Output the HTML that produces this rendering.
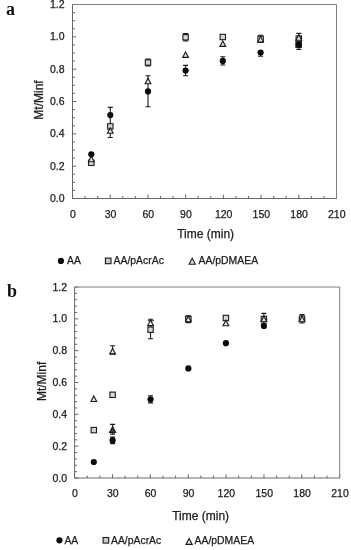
<!DOCTYPE html>
<html><head><meta charset="utf-8"><style>
html,body{margin:0;padding:0;background:#fff;width:351px;height:550px;overflow:hidden}
svg{display:block;will-change:transform}
text{font-family:"Liberation Sans",sans-serif;stroke:#1a1a1a;stroke-width:0.25px}
text.L{font-family:"Liberation Serif",serif;font-weight:bold;stroke:none}
</style></head><body>
<svg width="351" height="550" viewBox="0 0 351 550" font-family="Liberation Sans, sans-serif">
<rect width="351" height="550" fill="#fff"/>
<path d="M72.5 198.5H76.3M72.5 190.42H75M72.5 182.33H75M72.5 174.25H75M72.5 166.17H76.3M72.5 158.08H75M72.5 150H75M72.5 141.92H75M72.5 133.83H76.3M72.5 125.75H75M72.5 117.67H75M72.5 109.58H75M72.5 101.5H76.3M72.5 93.42H75M72.5 85.33H75M72.5 77.25H75M72.5 69.17H76.3M72.5 61.08H75M72.5 53H75M72.5 44.92H75M72.5 36.83H76.3M72.5 28.75H75M72.5 20.67H75M72.5 12.58H75M72.5 4.5H76.3M72.5 198.5V194.7M85.07 198.5V196M97.64 198.5V196M110.21 198.5V194.7M122.79 198.5V196M135.36 198.5V196M147.93 198.5V194.7M160.5 198.5V196M173.07 198.5V196M185.64 198.5V194.7M198.21 198.5V196M210.79 198.5V196M223.36 198.5V194.7M235.93 198.5V196M248.5 198.5V196M261.07 198.5V194.7M273.64 198.5V196M286.21 198.5V196M298.79 198.5V194.7M311.36 198.5V196M323.93 198.5V196M336.5 198.5V194.7" stroke="#686868" stroke-width="1" fill="none"/>
<path d="M72.5 4.5H336.5V198.5" stroke="#808080" stroke-width="1" fill="none"/>
<path d="M72.5 4.5V198.5H336.5" stroke="#686868" stroke-width="1" fill="none"/>
<text x="64.5" y="202.1" text-anchor="end" font-size="10.5" fill="#1a1a1a">0.0</text>
<text x="64.5" y="169.77" text-anchor="end" font-size="10.5" fill="#1a1a1a">0.2</text>
<text x="64.5" y="137.43" text-anchor="end" font-size="10.5" fill="#1a1a1a">0.4</text>
<text x="64.5" y="105.1" text-anchor="end" font-size="10.5" fill="#1a1a1a">0.6</text>
<text x="64.5" y="72.77" text-anchor="end" font-size="10.5" fill="#1a1a1a">0.8</text>
<text x="64.5" y="40.43" text-anchor="end" font-size="10.5" fill="#1a1a1a">1.0</text>
<text x="64.5" y="8.1" text-anchor="end" font-size="10.5" fill="#1a1a1a">1.2</text>
<text x="72.8" y="217.6" text-anchor="middle" font-size="10.5" fill="#1a1a1a">0</text>
<text x="110.51" y="217.6" text-anchor="middle" font-size="10.5" fill="#1a1a1a">30</text>
<text x="148.23" y="217.6" text-anchor="middle" font-size="10.5" fill="#1a1a1a">60</text>
<text x="185.94" y="217.6" text-anchor="middle" font-size="10.5" fill="#1a1a1a">90</text>
<text x="223.66" y="217.6" text-anchor="middle" font-size="10.5" fill="#1a1a1a">120</text>
<text x="261.37" y="217.6" text-anchor="middle" font-size="10.5" fill="#1a1a1a">150</text>
<text x="299.09" y="217.6" text-anchor="middle" font-size="10.5" fill="#1a1a1a">180</text>
<text x="336.8" y="217.6" text-anchor="middle" font-size="10.5" fill="#1a1a1a">210</text>
<text x="177.2" y="237.5" font-size="12" fill="#1a1a1a">Time (min)</text>
<text transform="translate(42.6 100) rotate(-90)" text-anchor="middle" font-size="12" fill="#1a1a1a">Mt/Minf</text>
<text x="6" y="15.1" class="L" font-size="18" fill="#111">a</text>
<path d="M110.3 107.4V137.5M107.8 107.4h5M107.8 137.5h5" stroke="#1a1a1a" stroke-width="1.1" fill="none"/>
<path d="M148 75.8V106.8M145.5 75.8h5M145.5 106.8h5" stroke="#1a1a1a" stroke-width="1.1" fill="none"/>
<path d="M185.6 65.4V75.8M183.1 65.4h5M183.1 75.8h5" stroke="#1a1a1a" stroke-width="1.1" fill="none"/>
<path d="M222.8 56.8V65M220.3 56.8h5M220.3 65h5" stroke="#1a1a1a" stroke-width="1.1" fill="none"/>
<path d="M260.6 52.5V56.3M258.1 56.3h5" stroke="#1a1a1a" stroke-width="1.1" fill="none"/>
<path d="M298.8 33.4V49.5M296.3 33.4h5M296.3 49.5h5" stroke="#1a1a1a" stroke-width="1.1" fill="none"/>
<rect x="295.9" y="42.2" width="5.4" height="5.4" fill="#d6d6d6" stroke="#1a1a1a" stroke-width="1.1"/>
<path d="M185.6 33.6V41M183.1 33.6h5M183.1 41h5" stroke="#1a1a1a" stroke-width="1.1" fill="none"/>
<path d="M147.9 59V65.9M145.4 59h5M145.4 65.9h5" stroke="#1a1a1a" stroke-width="1.1" fill="none"/>
<path d="M260.6 35.2V42.4M258.1 35.2h5M258.1 42.4h5" stroke="#1a1a1a" stroke-width="1.1" fill="none"/>
<circle cx="91.3" cy="154.3" r="3.1" fill="#0a0a0a"/>
<circle cx="110.3" cy="115.1" r="3.1" fill="#0a0a0a"/>
<circle cx="148" cy="91.4" r="3.1" fill="#0a0a0a"/>
<circle cx="185.6" cy="70.5" r="3.1" fill="#0a0a0a"/>
<circle cx="222.8" cy="60.9" r="3.1" fill="#0a0a0a"/>
<circle cx="260.6" cy="52.5" r="3.1" fill="#0a0a0a"/>
<circle cx="298.8" cy="44.6" r="3.1" fill="#0a0a0a"/>
<rect x="88.6" y="160.1" width="5.4" height="5.4" fill="#d6d6d6" stroke="#1a1a1a" stroke-width="1.1"/>
<rect x="107.6" y="123.7" width="5.4" height="5.4" fill="#d6d6d6" stroke="#1a1a1a" stroke-width="1.1"/>
<rect x="145.3" y="59.8" width="5.4" height="5.4" fill="#d6d6d6" stroke="#1a1a1a" stroke-width="1.1"/>
<rect x="182.9" y="34.6" width="5.4" height="5.4" fill="#d6d6d6" stroke="#1a1a1a" stroke-width="1.1"/>
<rect x="220.1" y="34.3" width="5.4" height="5.4" fill="#d6d6d6" stroke="#1a1a1a" stroke-width="1.1"/>
<rect x="257.9" y="36.1" width="5.4" height="5.4" fill="#d6d6d6" stroke="#1a1a1a" stroke-width="1.1"/>
<rect x="296.1" y="35.9" width="5.4" height="5.4" fill="#d6d6d6" stroke="#1a1a1a" stroke-width="1.1"/>
<path d="M91.3 156.2L94.2 161.71L88.4 161.71Z" fill="#e2e2e2" stroke="#1a1a1a" stroke-width="1.1" stroke-linejoin="miter"/>
<path d="M110.3 127.7L113.2 133.21L107.4 133.21Z" fill="#e2e2e2" stroke="#1a1a1a" stroke-width="1.1" stroke-linejoin="miter"/>
<path d="M148 78.3L150.9 83.81L145.1 83.81Z" fill="#e2e2e2" stroke="#1a1a1a" stroke-width="1.1" stroke-linejoin="miter"/>
<path d="M185.6 51.9L188.5 57.41L182.7 57.41Z" fill="#e2e2e2" stroke="#1a1a1a" stroke-width="1.1" stroke-linejoin="miter"/>
<path d="M222.8 40.9L225.7 46.41L219.9 46.41Z" fill="#e2e2e2" stroke="#1a1a1a" stroke-width="1.1" stroke-linejoin="miter"/>
<path d="M260.6 36.6L263.5 42.11L257.7 42.11Z" fill="#e2e2e2" stroke="#1a1a1a" stroke-width="1.1" stroke-linejoin="miter"/>
<path d="M298.8 34.7L301.7 40.21L295.9 40.21Z" fill="#e2e2e2" stroke="#1a1a1a" stroke-width="1.1" stroke-linejoin="miter"/>
<circle cx="60.9" cy="260.9" r="3.1" fill="#0a0a0a"/>
<text x="67" y="263.9" font-size="10.4" fill="#1a1a1a">AA</text>
<rect x="105.4" y="258.1" width="5.6" height="5.6" fill="#c8c8c8" stroke="#1a1a1a" stroke-width="1.1"/>
<text x="113.6" y="263.9" font-size="10.4" fill="#1a1a1a">AA/pAcrAc</text>
<path d="M192.2 258.3L195.3 264.19L189.1 264.19Z" fill="#e0e0e0" stroke="#1a1a1a" stroke-width="1.1" stroke-linejoin="miter"/>
<text x="198.6" y="263.9" font-size="10.4" fill="#1a1a1a">AA/pDMAEA</text>
<path d="M74.6 478H78.4M74.6 471.63H77.1M74.6 465.27H77.1M74.6 458.9H77.1M74.6 452.53H77.1M74.6 446.17H78.4M74.6 439.8H77.1M74.6 433.43H77.1M74.6 427.07H77.1M74.6 420.7H77.1M74.6 414.33H78.4M74.6 407.97H77.1M74.6 401.6H77.1M74.6 395.23H77.1M74.6 388.87H77.1M74.6 382.5H78.4M74.6 376.13H77.1M74.6 369.77H77.1M74.6 363.4H77.1M74.6 357.03H77.1M74.6 350.67H78.4M74.6 344.3H77.1M74.6 337.93H77.1M74.6 331.57H77.1M74.6 325.2H77.1M74.6 318.83H78.4M74.6 312.47H77.1M74.6 306.1H77.1M74.6 299.73H77.1M74.6 293.37H77.1M74.6 287H78.4M74.6 478V474.2M87.22 478V475.5M99.85 478V475.5M112.47 478V474.2M125.1 478V475.5M137.72 478V475.5M150.34 478V474.2M162.97 478V475.5M175.59 478V475.5M188.21 478V474.2M200.84 478V475.5M213.46 478V475.5M226.09 478V474.2M238.71 478V475.5M251.33 478V475.5M263.96 478V474.2M276.58 478V475.5M289.2 478V475.5M301.83 478V474.2M314.45 478V475.5M327.08 478V475.5M339.7 478V474.2" stroke="#686868" stroke-width="1" fill="none"/>
<path d="M74.6 287H339.7V478" stroke="#808080" stroke-width="1" fill="none"/>
<path d="M74.6 287V478H339.7" stroke="#686868" stroke-width="1" fill="none"/>
<text x="67.1" y="481.6" text-anchor="end" font-size="10.5" fill="#1a1a1a">0.0</text>
<text x="67.1" y="449.77" text-anchor="end" font-size="10.5" fill="#1a1a1a">0.2</text>
<text x="67.1" y="417.93" text-anchor="end" font-size="10.5" fill="#1a1a1a">0.4</text>
<text x="67.1" y="386.1" text-anchor="end" font-size="10.5" fill="#1a1a1a">0.6</text>
<text x="67.1" y="354.27" text-anchor="end" font-size="10.5" fill="#1a1a1a">0.8</text>
<text x="67.1" y="322.43" text-anchor="end" font-size="10.5" fill="#1a1a1a">1.0</text>
<text x="67.1" y="290.6" text-anchor="end" font-size="10.5" fill="#1a1a1a">1.2</text>
<text x="74.9" y="496.9" text-anchor="middle" font-size="10.5" fill="#1a1a1a">0</text>
<text x="112.77" y="496.9" text-anchor="middle" font-size="10.5" fill="#1a1a1a">30</text>
<text x="150.64" y="496.9" text-anchor="middle" font-size="10.5" fill="#1a1a1a">60</text>
<text x="188.51" y="496.9" text-anchor="middle" font-size="10.5" fill="#1a1a1a">90</text>
<text x="226.39" y="496.9" text-anchor="middle" font-size="10.5" fill="#1a1a1a">120</text>
<text x="264.26" y="496.9" text-anchor="middle" font-size="10.5" fill="#1a1a1a">150</text>
<text x="302.13" y="496.9" text-anchor="middle" font-size="10.5" fill="#1a1a1a">180</text>
<text x="340" y="496.9" text-anchor="middle" font-size="10.5" fill="#1a1a1a">210</text>
<text x="172.2" y="520" font-size="12" fill="#1a1a1a">Time (min)</text>
<text transform="translate(45.5 381.4) rotate(-90)" text-anchor="middle" font-size="12" fill="#1a1a1a">Mt/Minf</text>
<text x="6.9" y="297" class="L" font-size="18" fill="#111">b</text>
<path d="M112.6 345.8V354.3M110.1 345.8h5M110.1 354.3h5" stroke="#1a1a1a" stroke-width="1.1" fill="none"/>
<path d="M112.6 424.4V434.1M110.1 424.4h5M110.1 434.1h5" stroke="#1a1a1a" stroke-width="1.1" fill="none"/>
<path d="M112.6 437.1V443.6M110.1 437.1h5M110.1 443.6h5" stroke="#1a1a1a" stroke-width="1.1" fill="none"/>
<path d="M150.55 319.3V338.8M148.05 319.3h5M148.05 338.8h5" stroke="#1a1a1a" stroke-width="1.1" fill="none"/>
<path d="M150.55 395.8V402.9M148.05 395.8h5M148.05 402.9h5" stroke="#1a1a1a" stroke-width="1.1" fill="none"/>
<path d="M263.9 313.4V323.5M261.4 313.4h5M261.4 323.5h5" stroke="#1a1a1a" stroke-width="1.1" fill="none"/>
<path d="M302 314.5V323M299.5 314.5h5M299.5 323h5" stroke="#1a1a1a" stroke-width="1.1" fill="none"/>
<path d="M188.35 315.8V322.6M185.85 315.8h5M185.85 322.6h5" stroke="#1a1a1a" stroke-width="1.1" fill="none"/>
<path d="M150.85 320.8V325M147.85 320.8h6M147.85 325h6" stroke="#1a1a1a" stroke-width="1.1" fill="none"/>
<circle cx="93.8" cy="462" r="3.1" fill="#0a0a0a"/>
<circle cx="112.6" cy="440.4" r="3.1" fill="#0a0a0a"/>
<circle cx="150.55" cy="399.3" r="3.1" fill="#0a0a0a"/>
<circle cx="188.35" cy="368.4" r="3.1" fill="#0a0a0a"/>
<circle cx="225.9" cy="343.2" r="3.1" fill="#0a0a0a"/>
<circle cx="263.9" cy="325.9" r="3.1" fill="#0a0a0a"/>
<circle cx="302" cy="318.7" r="3.1" fill="#0a0a0a"/>
<rect x="91.1" y="427.4" width="5.4" height="5.4" fill="#d6d6d6" stroke="#1a1a1a" stroke-width="1.1"/>
<rect x="109.9" y="392.1" width="5.4" height="5.4" fill="#d6d6d6" stroke="#1a1a1a" stroke-width="1.1"/>
<rect x="147.85" y="327" width="5.4" height="5.4" fill="#d6d6d6" stroke="#1a1a1a" stroke-width="1.1"/>
<rect x="185.65" y="316.3" width="5.4" height="5.4" fill="#d6d6d6" stroke="#1a1a1a" stroke-width="1.1"/>
<rect x="223.2" y="315.3" width="5.4" height="5.4" fill="#d6d6d6" stroke="#1a1a1a" stroke-width="1.1"/>
<rect x="261.2" y="316.3" width="5.4" height="5.4" fill="#d6d6d6" stroke="#1a1a1a" stroke-width="1.1"/>
<rect x="299.3" y="316" width="5.4" height="5.4" fill="#d6d6d6" stroke="#1a1a1a" stroke-width="1.1"/>
<path d="M93.8 396L96.7 401.51L90.9 401.51Z" fill="#e2e2e2" stroke="#1a1a1a" stroke-width="1.1" stroke-linejoin="miter"/>
<path d="M112.6 348.4L115.5 353.91L109.7 353.91Z" fill="#e2e2e2" stroke="#1a1a1a" stroke-width="1.1" stroke-linejoin="miter"/>
<path d="M150.55 320.1L153.45 325.61L147.65 325.61Z" fill="#e2e2e2" stroke="#1a1a1a" stroke-width="1.1" stroke-linejoin="miter"/>
<path d="M188.35 316.3L191.25 321.81L185.45 321.81Z" fill="#e2e2e2" stroke="#1a1a1a" stroke-width="1.1" stroke-linejoin="miter"/>
<path d="M225.9 320.2L228.8 325.71L223 325.71Z" fill="#e2e2e2" stroke="#1a1a1a" stroke-width="1.1" stroke-linejoin="miter"/>
<path d="M263.9 316.2L266.8 321.71L261 321.71Z" fill="#e2e2e2" stroke="#1a1a1a" stroke-width="1.1" stroke-linejoin="miter"/>
<path d="M302 316.2L304.9 321.71L299.1 321.71Z" fill="#e2e2e2" stroke="#1a1a1a" stroke-width="1.1" stroke-linejoin="miter"/>
<path d="M112.6 426.6L115.7 432.49L109.5 432.49Z" fill="#3a3a3a" stroke="#1a1a1a" stroke-width="1.1" stroke-linejoin="miter"/>
<circle cx="59.5" cy="540.3" r="3.1" fill="#0a0a0a"/>
<text x="64.4" y="543.9" font-size="10.4" fill="#1a1a1a">AA</text>
<rect x="103.1" y="537.5" width="5.6" height="5.6" fill="#c8c8c8" stroke="#1a1a1a" stroke-width="1.1"/>
<text x="111" y="543.9" font-size="10.4" fill="#1a1a1a">AA/pAcrAc</text>
<path d="M189.1 538.5L192.2 544.39L186 544.39Z" fill="#e0e0e0" stroke="#1a1a1a" stroke-width="1.1" stroke-linejoin="miter"/>
<text x="194.6" y="543.9" font-size="10.4" fill="#1a1a1a">AA/pDMAEA</text>
</svg>
</body></html>
